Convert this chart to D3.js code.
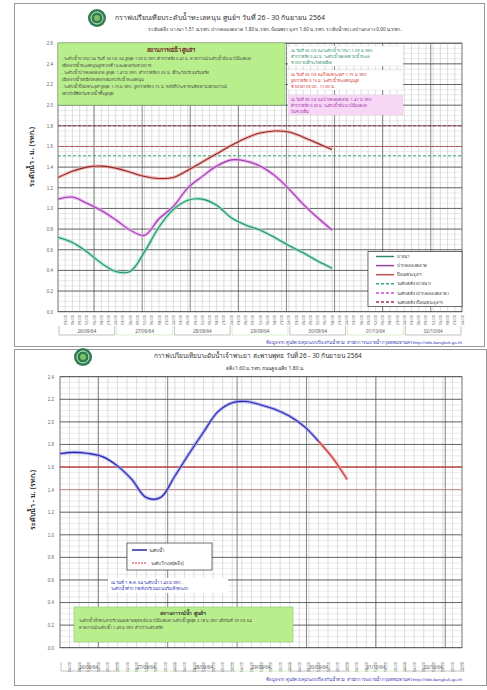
<!DOCTYPE html>
<html lang="th">
<head>
<meta charset="UTF-8">
<title>กราฟระดับน้ำ</title>
<script src="https://d3js.org/d3.v7.min.js"></script>
<style>
    body { margin: 0; background: #fff; font-family: "Noto Sans", "DejaVu Sans", sans-serif; }
    svg { display: block; }
</style>
</head>
<body>
<svg id="chart" width="487" height="690"></svg>
<script>
// ---- data ----
const dates = ["26/09/64", "27/09/64", "28/09/64", "29/09/64", "30/09/64", "01/10/64", "02/10/64"];
const hoursTop = [0, 6, 12, 18, 24, 30, 36, 42, 48, 54, 60, 66, 72, 78, 84, 90, 96, 102, 108, 114];
const stationA = [0.72, 0.67, 0.58, 0.47, 0.39, 0.39, 0.58, 0.82, 0.99, 1.08, 1.09, 1.03, 0.91, 0.84, 0.79, 0.72, 0.64, 0.57, 0.49, 0.42];
const stationB = [1.09, 1.11, 1.05, 0.98, 0.89, 0.79, 0.74, 0.90, 1.02, 1.20, 1.31, 1.41, 1.47, 1.46, 1.41, 1.32, 1.19, 1.04, 0.91, 0.79];
const stationC = [1.30, 1.36, 1.40, 1.41, 1.39, 1.35, 1.31, 1.29, 1.30, 1.37, 1.45, 1.53, 1.61, 1.68, 1.73, 1.75, 1.74, 1.69, 1.63, 1.57];
const bankA = 1.51, bankB = 1.80, bankC = 1.60;
const topNames = ["บางนา", "ปากคลองตลาด", "ป้อมพระจุลฯ", "ระดับตลิ่ง (บางนา)", "ระดับตลิ่ง (ปากคลองตลาด)", "ระดับตลิ่ง (ป้อมพระจุลฯ)"];
const topTimes = ["03:00", "06:00", "09:00", "12:00", "15:00", "18:00", "21:00", "24:00"];

const hoursBottom = [0, 6, 12, 18, 24, 30, 36, 42, 48, 54, 60, 66, 72, 78, 84, 90, 96, 102, 108, 114, 120];
const levelBottom = [1.72, 1.73, 1.72, 1.69, 1.61, 1.49, 1.33, 1.33, 1.52, 1.72, 1.91, 2.09, 2.17, 2.18, 2.15, 2.11, 2.05, 1.96, 1.83, 1.68, 1.49];
const observedUntil = 108;
const bankBottom = 1.60, bankBottom2 = 1.40;
const bottomNames = ["ระดับน้ำ", "ระดับวิกฤต(ตลิ่ง)"];
const bottomTimes = ["04:00", "08:00", "12:00", "16:00", "20:00", "24:00"];

const svg = d3.select("#chart");

function logo(x, y) {
    svg.append("circle").attr("cx", x).attr("cy", y).attr("r", 9).attr("fill", "#2f7d4f");
    svg.append("circle").attr("cx", x).attr("cy", y).attr("r", 6).attr("fill", "none").attr("stroke", "#cfe8d0").attr("stroke-width", 1);
    svg.append("circle").attr("cx", x).attr("cy", y).attr("r", 3).attr("fill", "#7fbf6a");
}

function drawGrid(g, x, y, w, h, yTicks, ySub, xTicks, xDark) {
    // minor horizontal
    g.selectAll(".hmin").data(ySub).enter().append("line")
        .attr("x1", 0).attr("x2", w).attr("y1", d => y(d)).attr("y2", d => y(d))
        .attr("stroke", "#d6d6d6").attr("stroke-width", 0.5);
    g.selectAll(".vmin").data(xTicks).enter().append("line")
        .attr("y1", 0).attr("y2", h).attr("x1", d => x(d)).attr("x2", d => x(d))
        .attr("stroke", "#bdbdbd").attr("stroke-width", 0.5);
    g.selectAll(".vdark").data(xDark).enter().append("line")
        .attr("y1", 0).attr("y2", h).attr("x1", d => x(d)).attr("x2", d => x(d))
        .attr("stroke", "#555").attr("stroke-width", 0.7);
    g.selectAll(".hmaj").data(yTicks).enter().append("line")
        .attr("x1", 0).attr("x2", w).attr("y1", d => y(d)).attr("y2", d => y(d))
        .attr("stroke", "#444").attr("stroke-width", 0.8);
    g.append("rect").attr("width", w).attr("height", h).attr("fill", "none").attr("stroke", "#555").attr("stroke-width", 0.7);
}

function drawLine(g, x, y, xs, vs, core, halo) {
    const line = d3.line().x(d => x(d[0])).y(d => y(d[1])).curve(d3.curveCatmullRom);
    const pts = xs.map((d, i) => [d, vs[i]]);
    g.append("path").datum(pts).attr("d", line).attr("fill", "none").attr("stroke", halo).attr("stroke-width", 3.2).attr("opacity", 0.8);
    g.append("path").datum(pts).attr("d", line).attr("fill", "none").attr("stroke", core).attr("stroke-width", 1.1);
}

function drawXAxis(x, plotLeft, plotBottom, times, stepH, labelY, boxY) {
    const ticks = [];
    for (let day = 0; day < dates.length; day++) {
        times.forEach((t, i) => ticks.push({ h: day * 24 + (i + 1) * stepH, t: t }));
    }
    svg.append("g").selectAll("text").data(ticks).enter().append("text")
        .attr("transform", d => `translate(${plotLeft + x(d.h) + 1.5},${labelY}) rotate(-90)`)
        .attr("text-anchor", "end").attr("font-size", 4).attr("fill", "#555")
        .text(d => d.t);
    const dg = svg.append("g");
    dates.forEach((d, i) => {
        const a = plotLeft + x(i * 24), b = plotLeft + x((i + 1) * 24);
        dg.append("path").attr("d", `M${a + 1},${boxY} V${boxY + 9} H${b - 1} V${boxY}`)
            .attr("fill", "none").attr("stroke", i % 2 ? "#c8e6b0" : "#999").attr("stroke-width", 0.6);
        dg.append("text").attr("x", (a + b) / 2).attr("y", boxY + 6.5).attr("text-anchor", "middle")
            .attr("font-size", 4.5).attr("fill", "#555").text(d);
    });
}

// ---------- bottom panel (drawn first; top panel overlaps the logo) ----------
svg.append("rect").attr("x", 14.5).attr("y", 349.5).attr("width", 472).attr("height", 336)
    .attr("fill", "#fff").attr("stroke", "#999");
logo(83, 357);
svg.append("text").attr("x", 258).attr("y", 358).attr("text-anchor", "middle").attr("font-size", 6.5).attr("fill", "#333")
    .text("กราฟเปรียบเทียบระดับน้ำเจ้าพระยา สะพานพุทธ วันที่ 26 - 30 กันยายน 2564");
svg.append("text").attr("x", 265).attr("y", 370).attr("text-anchor", "middle").attr("font-size", 5).attr("fill", "#333")
    .text("ตลิ่ง 1.60 ม.รทก. ถนนสูงเฉลี่ย 1.80 ม.");

{
    const left = 60, top = 376.7, w = 402, h = 271;
    const x = d3.scaleLinear().domain([0, 168]).range([0, w]);
    const y = d3.scaleLinear().domain([0, 2.4]).range([h, 0]);
    const g = svg.append("g").attr("transform", `translate(${left},${top})`);
    const yTicks = y.ticks(12);
    const ySub = d3.range(0, 2.4001, 0.05);
    const xTicks = d3.range(0, 169, 4);
    const xDark = [16, 45, 74, 103, 132, 161];
    drawGrid(g, x, y, w, h, yTicks, ySub, xTicks, xDark);

    g.append("line").attr("x1", 0).attr("x2", w).attr("y1", y(bankBottom)).attr("y2", y(bankBottom))
        .attr("stroke", "#e03030").attr("stroke-width", 1);
    g.append("line").attr("x1", 0).attr("x2", w).attr("y1", y(bankBottom2)).attr("y2", y(bankBottom2))
        .attr("stroke", "#f2a0a0").attr("stroke-width", 0.8);

    const split = hoursBottom.indexOf(observedUntil);
    drawLine(g, x, y, hoursBottom.slice(split), levelBottom.slice(split), "#c03030", "#f2a0a0");
    drawLine(g, x, y, hoursBottom.slice(0, split + 1), levelBottom.slice(0, split + 1), "#2a2aa8", "#9a9af0");

    svg.append("g").attr("transform", `translate(${left},${top})`)
        .call(d3.axisLeft(y).tickValues(yTicks).tickSize(0).tickPadding(6).tickFormat(d3.format(".1f")))
        .call(s => s.select(".domain").remove())
        .selectAll("text").attr("font-size", 4.5).attr("fill", "#666");

    svg.append("text").attr("transform", "translate(35,500) rotate(-90)").attr("text-anchor", "middle")
        .attr("font-size", 7).attr("font-weight", "bold").attr("fill", "#333").text("ระดับน้ำ - ม. (รทก.)");

    // legend
    const lg = svg.append("g").attr("transform", "translate(127,543)");
    lg.append("rect").attr("width", 85).attr("height", 27).attr("fill", "#fff").attr("stroke", "#333").attr("stroke-width", 0.7);
    lg.append("line").attr("x1", 5).attr("x2", 20).attr("y1", 7).attr("y2", 7).attr("stroke", "#2a2aa8").attr("stroke-width", 1.5);
    lg.append("text").attr("x", 22).attr("y", 9).attr("font-size", 4.5).attr("fill", "#333").text(bottomNames[0]);
    lg.append("line").attr("x1", 5).attr("x2", 20).attr("y1", 20).attr("y2", 20).attr("stroke", "#d03030").attr("stroke-width", 1.2).attr("stroke-dasharray", "2,1");
    lg.append("text").attr("x", 24).attr("y", 22).attr("font-size", 4.5).attr("fill", "#333").text(bottomNames[1]);

    // note
    const ng = svg.append("g").attr("transform", "translate(108,578)");
    ng.append("rect").attr("width", 120).attr("height", 15).attr("fill", "#fff");
    ng.append("text").attr("x", 3).attr("y", 6).attr("font-size", 4.2).attr("fill", "#2a2ab0").text("ณ วันที่ 1 ต.ค. 64 ระดับน้ำ 1.43 ม.รทก.");
    ng.append("text").attr("x", 3).attr("y", 12).attr("font-size", 4.2).attr("fill", "#2a2ab0").text("ระดับน้ำต่ำกว่าตลิ่งบริเวณถนนริมเจ้าพระยา");

    const bg = svg.append("g").attr("transform", "translate(74,607)");
    bg.append("rect").attr("width", 219).attr("height", 35).attr("fill", "#b8ee8c").attr("stroke", "#8cc870").attr("stroke-width", 0.6);
    bg.append("text").attr("x", 109).attr("y", 8).attr("text-anchor", "middle").attr("font-size", 5).attr("font-weight", "bold").attr("fill", "#333").text("สถานการณ์น้ำ ศูนย์ฯ");
    bg.append("text").attr("x", 5).attr("y", 15).attr("font-size", 4).attr("fill", "#444").text("ระดับน้ำเจ้าพระยาบริเวณสะพานพุทธ มีแนวโน้มลดลง ระดับน้ำสูงสุด 2.18 ม.รทก. เมื่อวันที่ 29 ก.ย. 64");
    bg.append("text").attr("x", 5).attr("y", 22).attr("font-size", 4).attr("fill", "#444").text("คาดการณ์ระดับน้ำ 1.49 ม.รทก. ต่ำกว่าระดับตลิ่ง");

    drawXAxis(x, left, top + h, bottomTimes, 4, 662, 662);
    svg.append("text").attr("x", 462).attr("y", 681).attr("text-anchor", "end").attr("font-size", 4.2).attr("fill", "#2a2ab0")
        .text("ข้อมูลจาก ศูนย์ควบคุมระบบป้องกันน้ำท่วม สำนักการระบายน้ำ กรุงเทพมหานคร   http://dds.bangkok.go.th");
}

// ---------- top panel ----------
svg.append("rect").attr("x", 14.5).attr("y", 3.5).attr("width", 470).attr("height", 343)
    .attr("fill", "#fff").attr("stroke", "#999");
logo(97, 18);
svg.append("text").attr("x", 220).attr("y", 20).attr("text-anchor", "middle").attr("font-size", 7).attr("fill", "#333")
    .text("กราฟเปรียบเทียบระดับน้ำทะเลหนุน ศูนย์ฯ วันที่ 26 - 30 กันยายน 2564");
svg.append("text").attr("x", 275).attr("y", 31).attr("text-anchor", "middle").attr("font-size", 4.8).attr("fill", "#333")
    .text("ระดับตลิ่ง บางนา 1.51 ม.รทก. ปากคลองตลาด 1.80 ม.รทก. ป้อมพระจุลฯ 1.60 ม.รทก. ระดับน้ำทะเลปานกลาง 0.00 ม.รทก.");

{
    const left = 58, top = 43.2, w = 404, h = 268.5;
    const x = d3.scaleLinear().domain([0, 168]).range([0, w]);
    const y = d3.scaleLinear().domain([0, 2.6]).range([h, 0]);
    const g = svg.append("g").attr("transform", `translate(${left},${top})`);
    const yTicks = y.ticks(13);
    const ySub = d3.range(0, 2.6001, 0.05);
    const xTicks = d3.range(0, 169, 3);
    const xDark = [15, 35, 55, 75, 95, 115, 135, 155];
    drawGrid(g, x, y, w, h, yTicks, ySub, xTicks, xDark);

    [[bankA, "#3aa876"], [bankC, "#e06060"], [bankB, "#a0306a"]].forEach(b => {
        g.append("line").attr("x1", 0).attr("x2", w).attr("y1", y(b[0])).attr("y2", y(b[0]))
            .attr("stroke", b[1]).attr("stroke-width", 1.1).attr("stroke-dasharray", "3,2");
    });

    drawLine(g, x, y, hoursTop, stationC, "#8a2b2b", "#f2a2a2");
    drawLine(g, x, y, hoursTop, stationB, "#9b3fa8", "#eaa4f2");
    drawLine(g, x, y, hoursTop, stationA, "#2c8c68", "#90e2c2");

    svg.append("g").attr("transform", `translate(${left},${top})`)
        .call(d3.axisLeft(y).tickValues(yTicks).tickSize(0).tickPadding(5).tickFormat(d3.format(".1f")))
        .call(s => s.select(".domain").remove())
        .selectAll("text").attr("font-size", 4.5).attr("fill", "#666");

    svg.append("text").attr("transform", "translate(34,157) rotate(-90)").attr("text-anchor", "middle")
        .attr("font-size", 7).attr("font-weight", "bold").attr("fill", "#333").text("ระดับน้ำ - ม. (รทก.)");

    // info box
    const ib = svg.append("g").attr("transform", "translate(58,43)");
    ib.append("rect").attr("width", 227).attr("height", 62).attr("fill", "#b8ee8c").attr("stroke", "#8cc870").attr("stroke-width", 0.6);
    ib.append("text").attr("x", 113).attr("y", 9).attr("text-anchor", "middle").attr("font-size", 5.5).attr("font-weight", "bold").attr("fill", "#6a2020").text("สถานการณ์น้ำ ศูนย์ฯ");
    const infoLines = [
        "- ระดับน้ำบางนา ณ วันที่ 30 ก.ย. 64 สูงสุด 1.09 ม.รทก. ต่ำกว่าตลิ่ง 0.42 ม. คาดการณ์ระดับน้ำมีแนวโน้มลดลง",
        "  เนื่องจากน้ำทะเลหนุนสูงช่วงเช้า และลดลงในช่วงบ่าย",
        "- ระดับน้ำปากคลองตลาด สูงสุด 1.47 ม.รทก. ต่ำกว่าตลิ่ง 0.33 ม. เฝ้าระวังบริเวณริมตลิ่ง",
        "  เนื่องจากน้ำเหนือไหลหลากสมทบกับน้ำทะเลหนุน",
        "- ระดับน้ำป้อมพระจุลฯ สูงสุด 1.75 ม.รทก. สูงกว่าตลิ่ง 0.15 ม. ขอให้ประชาชนติดตามสถานการณ์",
        "  อย่างใกล้ชิดในช่วงน้ำขึ้นสูงสุด"
    ];
    infoLines.forEach((t, i) => ib.append("text").attr("x", 4).attr("y", 17 + i * 7).attr("font-size", 4).attr("fill", "#444").text(t));

    const notes = [
        { y: 46, fill: "#fff", color: "#2c8c68", lines: ["ณ วันที่ 30 ก.ย. 64 ระดับน้ำบางนา 1.09 ม.รทก.", "ต่ำกว่าตลิ่ง 0.42 ม. ระดับน้ำลดลงตามน้ำทะเล", "ช่วงบ่าย เฝ้าระวังต่อเนื่อง"] },
        { y: 70, fill: "#fff", color: "#d03030", lines: ["ณ วันที่ 30 ก.ย. 64 ป้อมพระจุลฯ 1.75 ม.รทก.", "สูงกว่าตลิ่ง 0.15 ม. ระดับน้ำทะเลหนุนสูง", "ช่วงเวลา 09.00 - 11.00 น."] },
        { y: 95, fill: "#f8d6f6", color: "#a030a8", lines: ["ณ วันที่ 30 ก.ย. 64 ปากคลองตลาด 1.47 ม.รทก.", "ต่ำกว่าตลิ่ง 0.33 ม. ระดับน้ำมีแนวโน้มลดลง", "ในช่วงเย็น"] }
    ];
    notes.forEach(n => {
        const ng = svg.append("g").attr("transform", `translate(288,${n.y})`);
        ng.append("rect").attr("width", 115).attr("height", 20).attr("fill", n.fill).attr("stroke", "#ddd").attr("stroke-width", 0.4);
        n.lines.forEach((t, i) => ng.append("text").attr("x", 3).attr("y", 5.5 + i * 6).attr("font-size", 4).attr("fill", n.color).text(t));
    });

    // legend
    const lg = svg.append("g").attr("transform", "translate(368,251.5)");
    lg.append("rect").attr("width", 94).attr("height", 55).attr("fill", "#fff").attr("stroke", "#333").attr("stroke-width", 0.7);
    const legStyle = [["#2c8c68", null], ["#9b3fa8", null], ["#c05050", null], ["#3aa876", "3,2"], ["#c050c8", "3,2"], ["#a0306a", "3,2"]];
    topNames.forEach((name, i) => {
        const yy = 5 + i * 9.1;
        lg.append("line").attr("x1", 8).attr("x2", 26).attr("y1", yy).attr("y2", yy)
            .attr("stroke", legStyle[i][0]).attr("stroke-width", 1.5).attr("stroke-dasharray", legStyle[i][1]);
        lg.append("text").attr("x", 29).attr("y", yy + 1.6).attr("font-size", 4.3).attr("fill", "#333").text(name);
    });

    drawXAxis(x, left, top + h, topTimes, 3, 315, 326);
    svg.append("text").attr("x", 462).attr("y", 344).attr("text-anchor", "end").attr("font-size", 4.2).attr("fill", "#2a2ab0")
        .text("ข้อมูลจาก ศูนย์ควบคุมระบบป้องกันน้ำท่วม สำนักการระบายน้ำ กรุงเทพมหานคร   http://dds.bangkok.go.th");
}
</script>
</body>
</html>
